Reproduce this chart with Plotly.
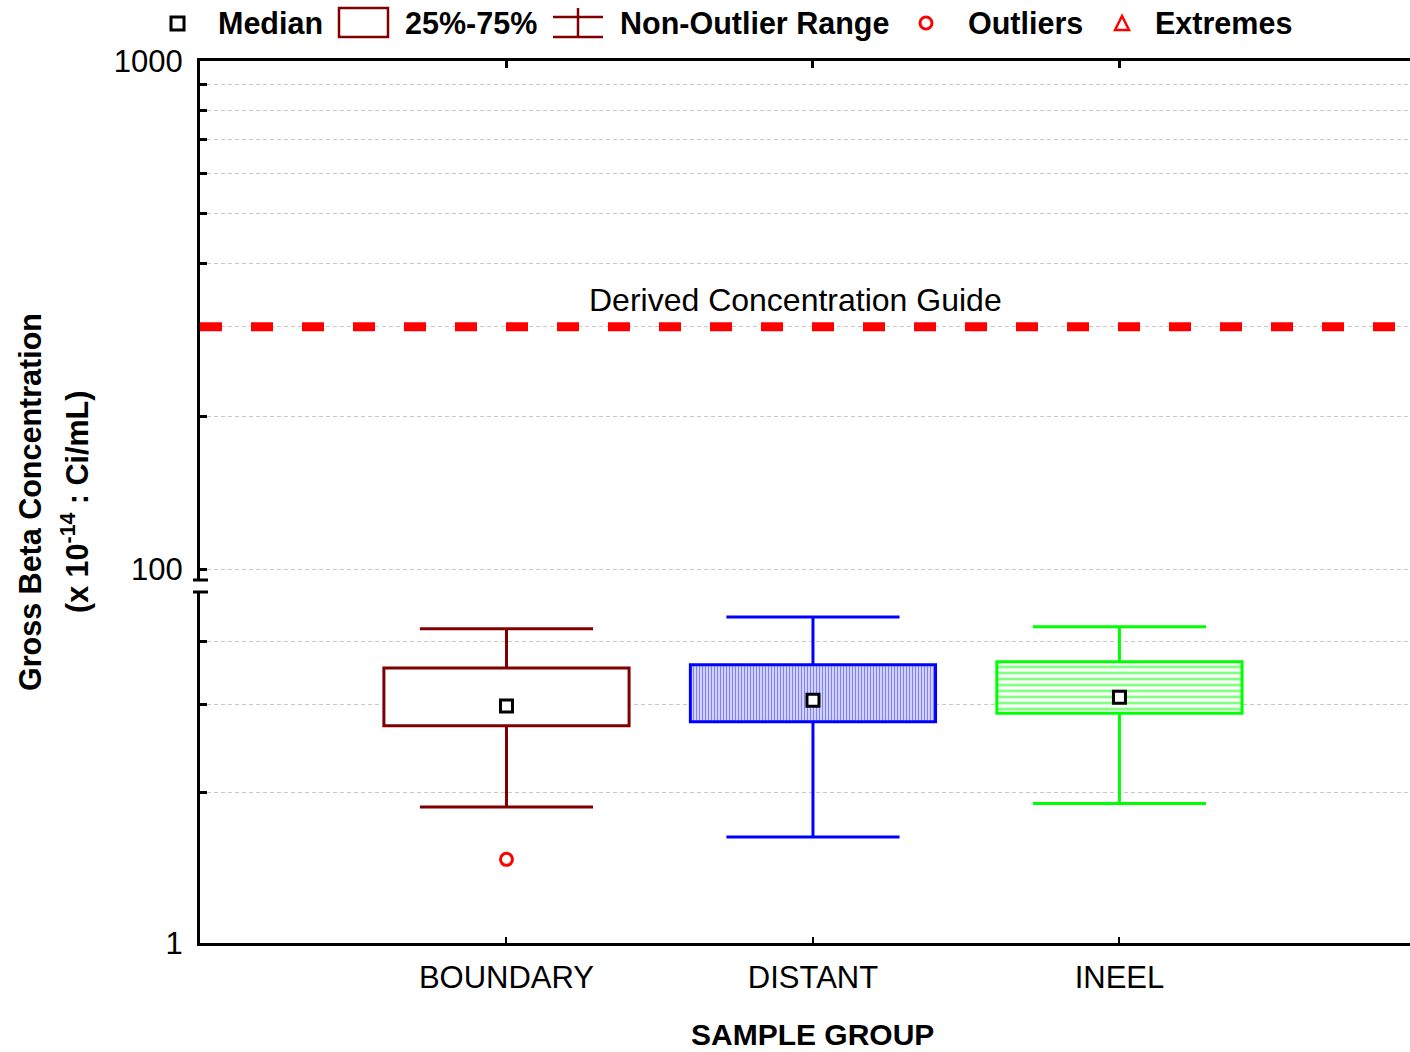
import numpy as np
import plotly.graph_objects as go

# ---- data (x 10^-14 Ci/mL) ----
groups = ["BOUNDARY", "DISTANT", "INEEL"]
q1 = [2.72, 2.77, 2.88]
q3 = [3.55, 3.60, 3.65]
medians = [2.98, 3.06, 3.10]
whisk_lo = [1.87, 1.63, 1.90]
whisk_hi = [4.25, 4.49, 4.29]
outlier_group = [0]
outlier_vals = [1.47]
dcg_value = 300
lower_ticks = [1, 2, 3, 4]
upper_ticks = [100, 200, 300, 400, 500, 600, 700, 800, 900, 1000]

# ---- style ----
edge_colors = ["#800000", "#0000ff", "#00ff00"]
fill_colors = ["#ffffff", "#d2d2ff", "#ffffff"]
patterns = ["", "|", "-"]
pattern_fg = ["#ffffff", "#8080ff", "#80ff80"]
pattern_size = [4, 3, 6]
pattern_solidity = [0.3, 0.35, 0.45]
FONT = "Liberation Sans, Arial, sans-serif"
W, H = 1410, 1052
ML, MR, MT, MB = 200, 0, 61, 109
plot_w = W - ML - MR
plot_h = H - MT - MB
x_range = [-1, 2.948]
box_w = 0.8
cap_w = 0.565


def px(xp):
    return (xp - ML) / plot_w


def py(yp):
    return (H - MB - yp) / plot_h


x = list(range(len(groups)))
fig = go.Figure()

# interquartile boxes
for i in x:
    pat = dict(shape=patterns[i], fgcolor=pattern_fg[i], bgcolor=fill_colors[i],
               size=pattern_size[i], solidity=pattern_solidity[i],
               fillmode="replace") if patterns[i] else dict(shape="")
    fig.add_trace(go.Bar(
        x=[i], base=[q1[i]], y=[q3[i] - q1[i]], width=box_w,
        marker=dict(color=fill_colors[i],
                    line=dict(color=edge_colors[i], width=3),
                    pattern=pat),
        xaxis="x", yaxis="y", showlegend=False, hoverinfo="skip"))

# whiskers with caps
for i in x:
    xs, ys = [], []
    xs += [i, i, None, i, i, None]
    ys += [q3[i], whisk_hi[i], None, q1[i], whisk_lo[i], None]
    xs += [i - cap_w / 2, i + cap_w / 2, None, i - cap_w / 2, i + cap_w / 2]
    ys += [whisk_hi[i], whisk_hi[i], None, whisk_lo[i], whisk_lo[i]]
    fig.add_trace(go.Scatter(x=xs, y=ys, mode="lines",
                             line=dict(color=edge_colors[i], width=3),
                             xaxis="x", yaxis="y", showlegend=False,
                             hoverinfo="skip"))

# medians
fig.add_trace(go.Scatter(
    x=x, y=medians, mode="markers",
    marker=dict(symbol="square", size=12, color="white",
                line=dict(color="black", width=3)),
    xaxis="x", yaxis="y", showlegend=False))

# outliers
fig.add_trace(go.Scatter(
    x=outlier_group, y=outlier_vals, mode="markers",
    marker=dict(symbol="circle", size=12, color="white",
                line=dict(color="red", width=3)),
    xaxis="x", yaxis="y", showlegend=False))

# empty trace so the top frame axis is drawn
fig.add_trace(go.Scatter(x=[], y=[], xaxis="x2", yaxis="y2", showlegend=False))

shapes = []
annotations = []

# derived concentration guide
shapes.append(dict(type="line", xref="x domain", x0=0, x1=1, yref="y2",
                   y0=dcg_value, y1=dcg_value,
                   line=dict(color="#ff0000", width=9, dash="22px,29px")))
annotations.append(dict(text="Derived Concentration Guide", xref="paper",
                        x=px(795), yref="y2", y=np.log10(dcg_value),
                        xanchor="center", yanchor="middle",
                        yshift=27, showarrow=False,
                        font=dict(family=FONT, size=32, color="black")))

# axis break marks
for yb in (580, 592):
    shapes.append(dict(type="line", xref="paper", yref="paper",
                       x0=px(193), x1=px(208), y0=py(yb), y1=py(yb),
                       line=dict(color="black", width=3)))

# legend row
leg_y = 23
shapes.append(dict(type="rect", xref="paper", yref="paper",
                   x0=px(171), x1=px(184), y0=py(leg_y - 6), y1=py(leg_y + 7),
                   line=dict(color="black", width=3), fillcolor="white"))
shapes.append(dict(type="rect", xref="paper", yref="paper",
                   x0=px(339), x1=px(388), y0=py(8), y1=py(37),
                   line=dict(color="#800000", width=2.5), fillcolor="white"))
for (xa, xb, ya, yb) in [(578, 578, 8, 37), (553, 603, 17, 17), (553, 603, 37, 37)]:
    shapes.append(dict(type="line", xref="paper", yref="paper",
                       x0=px(xa), x1=px(xb), y0=py(ya), y1=py(yb),
                       line=dict(color="#800000", width=2.5)))
shapes.append(dict(type="circle", xref="paper", yref="paper",
                   x0=px(920), x1=px(932), y0=py(leg_y - 6), y1=py(leg_y + 6),
                   line=dict(color="red", width=3), fillcolor="white"))
tri = "M {} {} L {} {} L {} {} Z".format(px(1115), py(30), px(1129), py(30),
                                         px(1122), py(16))
shapes.append(dict(type="path", xref="paper", yref="paper", path=tri,
                   line=dict(color="red", width=2.5), fillcolor="white"))
for label, xl in [("Median", 216), ("25%-75%", 403), ("Non-Outlier Range", 618),
                  ("Outliers", 966), ("Extremes", 1153)]:
    annotations.append(dict(text="<b>%s</b>" % label, xref="paper", yref="paper",
                            x=px(xl), y=py(leg_y), xanchor="left", yanchor="middle",
                            showarrow=False,
                            font=dict(family=FONT, size=30.5, color="black")))

# axis titles
annotations.append(dict(text="<b>SAMPLE GROUP</b>", xref="paper", yref="paper",
                        x=px(812), y=py(1034), xanchor="center", yanchor="middle",
                        showarrow=False,
                        font=dict(family=FONT, size=30, color="black")))
annotations.append(dict(text="<b>Gross Beta Concentration</b>", xref="paper",
                        yref="paper", x=px(30), y=py(502), textangle=-90,
                        xanchor="center", yanchor="middle", showarrow=False,
                        font=dict(family=FONT, size=30.5, color="black")))
annotations.append(dict(text="<b>(x 10<sup>-14</sup> : Ci/mL)</b>", xref="paper",
                        yref="paper", x=px(75), y=py(502), textangle=-90,
                        xanchor="center", yanchor="middle", showarrow=False,
                        font=dict(family=FONT, size=30.5, color="black")))

grid = dict(showgrid=True, gridcolor="#c8c8c8", gridwidth=1, griddash="4px,3px")
tick_font = dict(family=FONT, size=31, color="black")

fig.update_layout(
    width=W, height=H, margin=dict(l=ML, r=MR, t=MT, b=MB, pad=0),
    paper_bgcolor="white", plot_bgcolor="white", showlegend=False,
    barmode="overlay",
    xaxis=dict(range=x_range, tickvals=x, ticktext=groups, anchor="y",
               showline=True, linecolor="black", linewidth=3,
               ticks="inside", ticklen=6, tickwidth=2, tickcolor="black",
               showgrid=False, zeroline=False, tickfont=tick_font,
               ticklabelstandoff=5),
    xaxis2=dict(range=x_range, tickvals=x, overlaying="x", anchor="y2",
                side="top", showline=True, linecolor="black", linewidth=3,
                ticks="inside", ticklen=7, tickwidth=3, tickcolor="black",
                showticklabels=False, showgrid=False, zeroline=False),
    yaxis=dict(type="log", range=[0, 0.702], domain=[0, py(592)], anchor="x",
               tickvals=lower_ticks,
               ticktext=[str(v) if v == 1 else "" for v in lower_ticks],
               showline=True, linecolor="black", linewidth=3,
               ticks="inside", ticklen=7, tickwidth=3, tickcolor="black",
               zeroline=False, tickfont=tick_font, ticklabelstandoff=8, **grid),
    yaxis2=dict(type="log", range=[np.log10(95.2), 3], domain=[py(580), 1],
                anchor="x", tickvals=upper_ticks,
                ticktext=[str(v) if v in (100, 1000) else "" for v in upper_ticks],
                showline=True, linecolor="black", linewidth=3,
                ticks="inside", ticklen=7, tickwidth=3, tickcolor="black",
                zeroline=False, tickfont=tick_font, ticklabelstandoff=8, **grid),
    shapes=shapes, annotations=annotations,
)

fig.write_html("out.html")
